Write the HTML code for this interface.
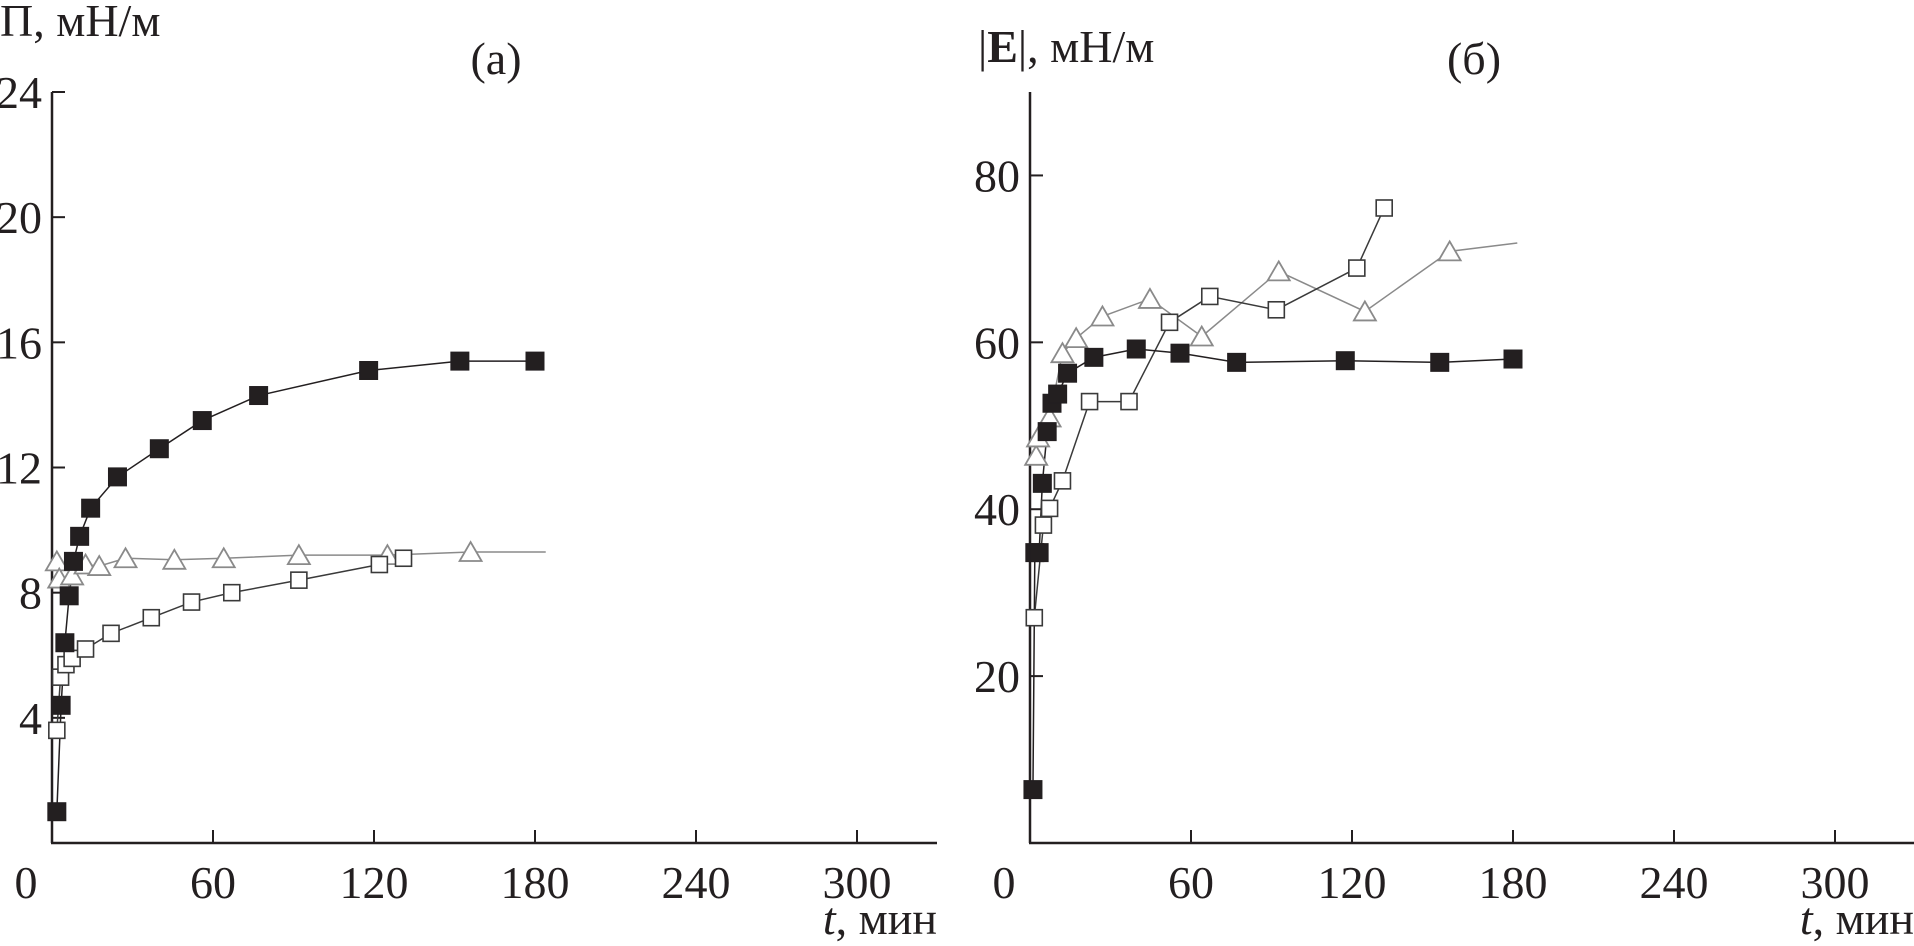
<!DOCTYPE html>
<html><head><meta charset="utf-8"><style>
html,body{margin:0;padding:0;background:#fff;}
svg{display:block;}
text{font-family:"Liberation Serif",serif;fill:#231f20;}
</style></head><body>
<svg id="fig" width="1914" height="946" viewBox="0 0 1914 946"></svg>
<script>
// ---- Panel (a) data: surface pressure П, mN/m vs t, min
const aTicksX = [0, 60, 120, 180, 240, 300];
const aTicksY = [4, 8, 12, 16, 20, 24];
const aFilledT = [1.8, 3.4, 4.8, 6.4, 8, 10.3, 14.4, 24.4, 40, 56, 77, 118, 152, 180];
const aFilledV = [1.0, 4.4, 6.4, 7.9, 9.0, 9.8, 10.7, 11.7, 12.6, 13.5, 14.3, 15.1, 15.4, 15.4];
const aOpenT = [1.8, 3.2, 5.2, 7.5, 12.5, 22, 37, 52, 67, 92, 122, 131];
const aOpenV = [3.6, 5.3, 5.7, 5.9, 6.2, 6.7, 7.2, 7.7, 8.0, 8.4, 8.9, 9.1];
const aTriT = [1.8, 2.7, 7.5, 12.5, 17.6, 27.4, 45.6, 64, 92, 125, 156];
const aTriV = [9.0, 8.45, 8.55, 8.9, 8.85, 9.1, 9.05, 9.1, 9.2, 9.2, 9.3];
const aTriEndT = 184, aTriEndV = 9.3;

// ---- Panel (b) data: |E|, mN/m vs t, min
const bTicksX = [0, 60, 120, 180, 240, 300];
const bTicksY = [20, 40, 60, 80];
const bFilledT = [1.1, 1.8, 3.4, 4.6, 6.4, 8.2, 10.3, 14, 23.8, 39.6, 55.9, 77, 117.5, 152.7, 180];
const bFilledV = [6.4, 34.8, 34.8, 43.1, 49.3, 52.7, 53.8, 56.3, 58.2, 59.2, 58.7, 57.6, 57.8, 57.6, 58.0];
const bOpenT = [1.6, 5, 7.3, 12.1, 22.2, 36.9, 52, 67, 91.8, 121.8, 132];
const bOpenV = [27.0, 38.1, 40.1, 43.4, 52.9, 52.9, 62.4, 65.5, 63.9, 68.9, 76.1];
const bTriT = [2.3, 3, 7.3, 12.1, 17.2, 27, 44.7, 64, 92.7, 124.8, 156.4];
const bTriV = [46.4, 48.6, 51, 58.7, 60.5, 63.1, 65.2, 60.7, 68.5, 63.7, 70.9];
const bTriEndT = 181.6, bTriEndV = 71.9;

const NS = "http://www.w3.org/2000/svg";
const svg = document.getElementById('fig');
const FS = 46;
function mk(tag, attrs, parent){
  const e = document.createElementNS(NS, tag);
  for (const k in attrs) e.setAttribute(k, attrs[k]);
  (parent||svg).appendChild(e);
  return e;
}

function panel(cfg){
  const g = mk('g', {});
  
  
  const X = t => cfg.x0 + t * cfg.pxPerMin;
  const Y = v => cfg.y0 - v * cfg.pxPerUnit;
  const ya = mk('line', {x1:cfg.x0, y1:cfg.yTop, x2:cfg.x0, y2:cfg.y0, stroke:'#231f20','stroke-width':2.5}, g);
  
  
  const xa = mk('line', {x1:cfg.x0-1, y1:cfg.y0, x2:cfg.xEnd, y2:cfg.y0, stroke:'#231f20','stroke-width':2.5}, g);
  
  
  cfg.ticksY.forEach(v => {
    mk('line', {x1:cfg.x0, y1:Y(v), x2:cfg.x0+13, y2:Y(v), stroke:'#231f20','stroke-width':2}, g);
    const t = mk('text', {x:cfg.x0-10, y:Y(v)+16, 'font-size':FS, 'text-anchor':'end'}, g);
    t.textContent = v;
    
    
  });
  cfg.ticksX.forEach(v => {
    if (v > 0) mk('line', {x1:X(v), y1:cfg.y0, x2:X(v), y2:cfg.y0-13, stroke:'#231f20','stroke-width':2}, g);
    const t = mk('text', {x: v===0 ? cfg.x0-26 : X(v), y:898, 'font-size':FS, 'text-anchor':'middle'}, g);
    t.textContent = v;
    
    
  });
  function line(ts, vs, color, endT, endV){
    let pts = ts.map((t,i)=>X(t)+','+Y(vs[i]));
    if (endT !== undefined) pts.push(X(endT)+','+Y(endV));
    const p = mk('polyline', {points:pts.join(' '), fill:'none', stroke:color, 'stroke-width':1.5}, g);
    
    
  }
  line(cfg.triT, cfg.triV, '#8a8a8a', cfg.triEndT, cfg.triEndV);
  line(cfg.openT, cfg.openV, '#3a3a3a');
  line(cfg.filledT, cfg.filledV, '#231f20');
  cfg.triT.forEach((t,i)=>{
    const cx = X(t), cy = Y(cfg.triV[i]);
    const m = mk('polygon', {points:`${cx-11},${cy+9} ${cx+11},${cy+9} ${cx},${cy-10}`, fill:'#fff', stroke:'#8a8a8a','stroke-width':1.8}, g);
    
    
  });
  cfg.openT.forEach((t,i)=>{
    const cx = X(t), cy = Y(cfg.openV[i]);
    const m = mk('rect', {x:cx-8, y:cy-8, width:16, height:16, fill:'#fff', stroke:'#3a3a3a','stroke-width':1.6}, g);
    
    
  });
  cfg.filledT.forEach((t,i)=>{
    const cx = X(t), cy = Y(cfg.filledV[i]);
    const m = mk('rect', {x:cx-9, y:cy-9, width:18, height:18, fill:'#231f20', stroke:'#231f20','stroke-width':1}, g);
    
    
  });
  return g;
}

panel({name:'panel-a', x0:52, y0:843, yTop:92, xEnd:937, pxPerMin:161/60, pxPerUnit:751/24,
  ticksX:aTicksX, ticksY:aTicksY, filledT:aFilledT, filledV:aFilledV, openT:aOpenT, openV:aOpenV,
  triT:aTriT, triV:aTriV, triEndT:aTriEndT, triEndV:aTriEndV});
panel({name:'panel-b', x0:1030, y0:843, yTop:92, xEnd:1914, pxPerMin:161/60, pxPerUnit:751/90,
  ticksX:bTicksX, ticksY:bTicksY, filledT:bFilledT, filledV:bFilledV, openT:bOpenT, openV:bOpenV,
  triT:bTriT, triV:bTriV, triEndT:bTriEndT, triEndV:bTriEndV});

function label(x, y, html, name, anchor){
  const t = mk('text', {x:x, y:y, 'font-size':FS, 'text-anchor':anchor||'start'});
  t.innerHTML = html;
  
  
}
label(0, 36, 'П, мН/м', 'y-axis-title-a');
label(496, 74, '(а)', 'panel-a-title', 'middle');
label(937, 934, '<tspan font-style="italic">t</tspan>, мин', 'x-axis-title-a', 'end');
label(978, 62, '|<tspan font-weight="bold">E</tspan>|, мН/м', 'y-axis-title-b');
label(1474, 74, '(б)', 'panel-b-title', 'middle');
label(1914, 934, '<tspan font-style="italic">t</tspan>, мин', 'x-axis-title-b', 'end');
</script>
</body></html>
